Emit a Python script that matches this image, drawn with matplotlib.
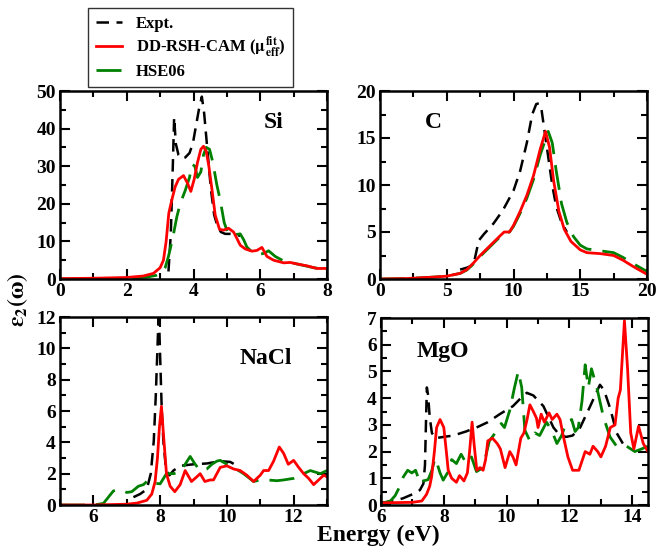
import matplotlib
matplotlib.use("Agg")
import matplotlib.pyplot as plt
from matplotlib.ticker import MultipleLocator

plt.rcParams['font.family'] = ['Liberation Serif', 'DejaVu Serif']
plt.rcParams['font.weight'] = 'bold'
plt.rcParams['mathtext.fontset'] = 'stix'

# ---- Si ----
si_expt_x = [3.25, 3.32, 3.38, 3.42, 3.47, 3.55, 3.65, 3.75, 3.88, 3.98, 4.08, 4.16, 4.25, 4.32, 4.42, 4.52, 4.62, 4.72, 4.82, 4.95, 5.1, 5.4]
si_expt_y = [2.0, 12.0, 30.0, 43.0, 36.0, 33.0, 32.0, 32.3, 33.5, 36.0, 41.0, 45.0, 48.5, 44.0, 34.0, 24.0, 17.0, 14.0, 12.5, 12.0, 12.0, 11.5]
si_dd_x = [0, 1.0, 2.0, 2.5, 2.8, 3.0, 3.1, 3.18, 3.26, 3.35, 3.45, 3.55, 3.7, 3.82, 3.92, 4.02, 4.12, 4.22, 4.3, 4.38, 4.46, 4.55, 4.65, 4.78, 4.9, 5.05, 5.2, 5.3, 5.4, 5.55, 5.75, 5.9, 6.05, 6.2, 6.4, 6.7, 6.9, 7.1, 7.4, 7.7, 8.0]
si_dd_y = [0.1, 0.2, 0.4, 0.8, 1.5, 3.0, 5.0, 10.0, 17.5, 21.0, 24.5, 26.5, 27.5, 25.5, 23.3, 26.5, 31.0, 34.5, 35.3, 34.0, 30.0, 24.0, 17.0, 13.2, 13.0, 13.5, 12.5, 10.8, 9.0, 8.0, 7.4, 7.6, 8.4, 6.0, 5.0, 4.3, 4.4, 4.0, 3.5, 2.8, 2.8]
si_hse_x = [0, 1.0, 2.0, 2.6, 2.9, 3.05, 3.15, 3.25, 3.38, 3.5, 3.6, 3.75, 3.88, 3.96, 4.04, 4.12, 4.22, 4.3, 4.38, 4.48, 4.58, 4.7, 4.8, 4.92, 5.02, 5.12, 5.25, 5.4, 5.5, 5.6, 5.75, 5.95, 6.1, 6.25, 6.45, 6.7, 7.0, 7.3, 7.6, 8.0]
si_hse_y = [0.05, 0.1, 0.2, 0.5, 1.0, 1.5, 3.0, 6.0, 11.0, 16.5, 20.0, 23.5, 27.0, 30.5, 30.0, 27.0, 28.5, 33.0, 35.0, 34.5, 31.0, 25.0, 21.0, 15.0, 12.5, 11.5, 11.8, 12.0, 10.5, 8.5, 7.2, 6.5, 6.8, 7.5, 6.0, 4.8, 4.2, 3.6, 3.0, 2.5]

# ---- C ----
c_expt_x = [6.0, 6.5, 7.0, 7.2, 7.4, 7.8, 8.5, 9.2, 10.0, 10.5, 11.0, 11.4, 11.7, 11.9, 12.1, 12.3, 12.6, 12.9, 13.2, 13.6, 14.0]
c_expt_y = [1.0, 1.2, 1.5, 2.8, 4.1, 4.8, 5.9, 7.3, 9.4, 11.5, 14.5, 17.5, 18.6, 18.7, 18.0, 16.0, 13.0, 10.0, 7.7, 6.0, 5.0]
c_dd_x = [0, 2, 4, 5, 6, 6.5, 7.0, 7.5, 8.0, 8.5, 9.0, 9.3, 9.7, 10.0, 10.5, 11.0, 11.5, 12.0, 12.4, 12.7, 13.0, 13.4, 13.8, 14.3, 15.0, 15.5, 16.5, 17.5, 18.2, 19.0, 20.0]
c_dd_y = [0.0, 0.05, 0.2, 0.3, 0.6, 1.0, 1.7, 2.5, 3.2, 3.9, 4.6, 5.0, 5.0, 5.7, 7.2, 8.9, 11.0, 13.8, 15.7, 14.0, 10.5, 7.2, 5.3, 4.0, 3.1, 2.8, 2.7, 2.5, 2.0, 1.3, 0.5]
c_hse_x = [0, 2, 4, 5, 6, 6.5, 7.0, 7.5, 8.0, 8.5, 9.0, 9.3, 9.7, 10.0, 10.5, 11.0, 11.5, 12.0, 12.6, 12.9, 13.2, 13.6, 14.0, 14.5, 15.0, 15.5, 16.5, 17.5, 18.2, 19.0, 20.0]
c_hse_y = [0.0, 0.05, 0.2, 0.3, 0.6, 0.95, 1.6, 2.4, 3.1, 3.8, 4.5, 4.9, 5.0, 5.6, 7.0, 8.6, 10.6, 13.2, 15.7, 14.5, 11.5, 8.0, 6.0, 4.5, 3.6, 3.2, 3.0, 2.8, 2.3, 1.6, 0.8]

# ---- NaCl ----
nacl_expt_x = [7.2, 7.4, 7.6, 7.72, 7.81, 7.87, 7.92, 7.96, 8.0, 8.05, 8.1, 8.18, 8.28, 8.4, 8.6, 9.0, 9.4, 9.8, 10.1, 10.4]
nacl_expt_y = [0.5, 0.7, 1.0, 2.0, 4.1, 7.0, 10.0, 12.5, 9.5, 6.0, 4.0, 2.2, 1.9, 2.2, 2.5, 2.6, 2.65, 2.8, 2.75, 2.4]
nacl_dd_x = [5.0, 6.0, 7.0, 7.3, 7.6, 7.75, 7.85, 7.92, 7.98, 8.04, 8.1, 8.19, 8.3, 8.44, 8.6, 8.75, 8.94, 9.1, 9.2, 9.34, 9.5, 9.6, 9.8, 10.0, 10.2, 10.4, 10.6, 10.8, 11.0, 11.1, 11.25, 11.4, 11.57, 11.7, 11.84, 12.0, 12.15, 12.3, 12.45, 12.6, 12.75, 12.9, 13.0]
nacl_dd_y = [0.0, 0.0, 0.05, 0.12, 0.3, 0.7, 1.5, 3.0, 5.0, 6.3, 4.5, 2.0, 1.2, 0.85, 1.3, 2.2, 1.5, 1.8, 2.0, 1.5, 1.6, 1.6, 2.4, 2.5, 2.3, 2.2, 1.9, 1.5, 1.9, 2.2, 2.2, 2.8, 3.7, 3.3, 2.6, 2.85, 2.4, 2.0, 1.7, 1.3, 1.6, 1.9, 1.8]
nacl_hse_x = [5.0, 6.0, 6.3, 6.45, 6.6, 6.8, 7.0, 7.15, 7.35, 7.5, 7.65, 7.8, 8.0, 8.19, 8.4, 8.6, 8.75, 8.9, 9.05, 9.2, 9.4, 9.55, 9.7, 9.8, 10.0, 10.2, 10.5, 10.8, 11.0, 11.2, 11.5, 11.7, 12.0, 12.2, 12.5, 12.8, 13.0]
nacl_hse_y = [0.0, 0.0, 0.1, 0.5, 0.9, 1.0, 0.8, 0.85, 1.2, 1.3, 1.6, 1.4, 1.35, 2.0, 2.0, 2.1, 2.6, 3.1, 2.6, 2.2, 2.3, 2.6, 2.8, 2.85, 2.6, 2.4, 2.0, 1.5, 1.6, 1.6, 1.55, 1.6, 1.7, 1.9, 2.2, 2.0, 2.2]

# ---- MgO ----
mgo_expt_x = [6.0, 6.4, 6.7, 7.0, 7.24, 7.35, 7.4, 7.43, 7.46, 7.5, 7.55, 7.62, 7.72, 8.0, 8.3, 8.7, 9.04, 9.4, 9.78, 10.2, 10.45, 10.64, 10.85, 11.17, 11.49, 11.7, 11.9, 12.1, 12.34, 12.66, 12.97, 13.1, 13.3, 13.5, 13.7]
mgo_expt_y = [0.08, 0.15, 0.25, 0.4, 0.56, 0.8, 1.5, 3.0, 4.4, 4.1, 3.3, 2.7, 2.5, 2.55, 2.6, 2.75, 2.9, 3.1, 3.4, 3.7, 4.0, 4.2, 4.1, 3.7, 2.9, 2.6, 2.55, 2.6, 2.9, 3.7, 4.5, 4.3, 3.6, 2.7, 2.3]
mgo_dd_x = [6.0, 7.0, 7.3, 7.45, 7.55, 7.61, 7.7, 7.77, 7.88, 8.0, 8.08, 8.14, 8.25, 8.4, 8.5, 8.64, 8.75, 8.82, 8.9, 8.97, 9.05, 9.15, 9.25, 9.33, 9.4, 9.55, 9.7, 9.8, 9.95, 10.1, 10.2, 10.3, 10.45, 10.55, 10.65, 10.74, 10.85, 10.95, 11.0, 11.1, 11.2, 11.35, 11.45, 11.6, 11.7, 11.8, 11.95, 12.1, 12.3, 12.5, 12.65, 12.75, 12.9, 13.0, 13.15, 13.3, 13.45, 13.55, 13.62, 13.68, 13.75, 13.8, 13.85, 13.95, 14.05, 14.2, 14.35, 14.5]
mgo_dd_y = [0.08, 0.1, 0.15, 0.4, 0.7, 1.05, 2.0, 2.9, 3.2, 2.9, 2.0, 1.3, 1.0, 0.85, 1.1, 0.9, 1.2, 2.0, 3.1, 2.2, 1.3, 1.4, 1.3, 1.7, 2.4, 2.5, 2.3, 2.1, 1.4, 2.0, 1.8, 1.5, 2.5, 2.7, 3.2, 3.75, 3.5, 3.25, 2.9, 3.4, 3.1, 3.45, 3.2, 3.4, 3.2, 2.6, 1.8, 1.3, 1.3, 2.0, 1.9, 2.2, 2.0, 1.8, 2.2, 2.9, 3.0, 4.0, 4.3, 5.5, 6.9, 6.0, 5.1, 2.7, 2.1, 2.95, 2.3, 2.0]
mgo_hse_x = [6.0, 6.3, 6.45, 6.6, 6.71, 6.85, 6.98, 7.1, 7.25, 7.35, 7.5, 7.62, 7.72, 7.8, 7.88, 7.98, 8.14, 8.25, 8.4, 8.55, 8.72, 8.88, 9.04, 9.25, 9.45, 9.67, 9.83, 9.93, 10.1, 10.25, 10.37, 10.48, 10.58, 10.74, 10.9, 11.05, 11.27, 11.43, 11.6, 11.75, 11.9, 12.07, 12.18, 12.28, 12.4, 12.5, 12.6, 12.7, 12.87, 13.08, 13.29, 13.5, 13.82, 14.08, 14.3, 14.5]
mgo_hse_y = [0.05, 0.15, 0.35, 0.7, 1.05, 1.3, 1.2, 1.3, 0.8, 0.9, 0.95, 1.3, 1.75, 1.5, 1.2, 0.93, 1.25, 1.7, 1.55, 1.9, 1.55, 1.8, 1.25, 1.4, 2.4, 2.75, 3.05, 2.9, 3.55, 4.4, 5.0, 4.4, 2.8, 2.4, 2.7, 2.6, 3.1, 2.8, 2.3, 2.6, 3.1, 3.2, 2.75, 2.9, 3.9, 5.25, 4.4, 5.1, 4.4, 3.3, 2.55, 2.2, 2.2, 2.0, 2.1, 2.2]

W, H = 658, 546
fig = plt.figure(figsize=(W / 100, H / 100), dpi=100)


def make_axes(px_left, px_top, px_right, px_bottom):
    return fig.add_axes([px_left / W, 1 - px_bottom / H, (px_right - px_left) / W, (px_bottom - px_top) / H])


panels = [
    (make_axes(60, 91, 327, 279), si_expt_x, si_expt_y, si_dd_x, si_dd_y, si_hse_x, si_hse_y,
     (0, 8), (0, 50), 2, 1, 10, 5, 'Si', (0.8, 0.83)),
    (make_axes(380, 91, 647, 279), c_expt_x, c_expt_y, c_dd_x, c_dd_y, c_hse_x, c_hse_y,
     (0, 20), (0, 20), 5, 2.5, 5, 2.5, 'C', (0.2, 0.83)),
    (make_axes(60, 317, 327, 505), nacl_expt_x, nacl_expt_y, nacl_dd_x, nacl_dd_y, nacl_hse_x, nacl_hse_y,
     (5, 13), (0, 12), 2, 1, 2, 1, 'NaCl', (0.77, 0.78)),
    (make_axes(381, 318, 648, 505), mgo_expt_x, mgo_expt_y, mgo_dd_x, mgo_dd_y, mgo_hse_x, mgo_hse_y,
     (6, 14.5), (0, 7), 2, 1, 1, 0.5, 'MgO', (0.23, 0.82)),
]

for (ax, ex, ey, dx, dy, hx, hy, xlim, ylim, xmaj, xmin, ymaj, ymin, name, pos) in panels:
    ax.plot(ex, ey, color='black', lw=1.8, dashes=(5, 3), label='Expt.')
    ax.plot(hx, hy, color='green', lw=2.0, dashes=(9, 4), label='HSE06')
    ax.plot(dx, dy, color='red', lw=2.0, label=r'DD-RSH-CAM ($\mathbf{\mu_{eff}^{fit}}$)')
    ax.set_xlim(*xlim)
    ax.set_ylim(*ylim)
    ax.xaxis.set_major_locator(MultipleLocator(xmaj))
    ax.xaxis.set_minor_locator(MultipleLocator(xmin))
    ax.yaxis.set_major_locator(MultipleLocator(ymaj))
    ax.yaxis.set_minor_locator(MultipleLocator(ymin))
    ax.tick_params(which='both', direction='in', top=True, right=True, width=1.5)
    ax.tick_params(which='major', length=7, labelsize=14, pad=3)
    ax.tick_params(which='minor', length=4)
    for s in ax.spines.values():
        s.set_linewidth(1.8)
    for lab in ax.get_xticklabels() + ax.get_yticklabels():
        lab.set_fontweight('bold')
    ax.text(pos[0], pos[1], name, transform=ax.transAxes, fontsize=17, fontweight='bold',
            ha='center', va='center')

ax0 = panels[0][0]
h, l = ax0.get_legend_handles_labels()
order = [0, 2, 1]
leg = fig.legend([h[i] for i in order], [l[i] for i in order],
                 loc='upper left', bbox_to_anchor=(88 / W, 1 - 8 / H),
                 frameon=True, fancybox=False, edgecolor='black',
                 prop={'size': 12, 'weight': 'bold'}, handlelength=1.6,
                 handletextpad=0.8, borderpad=0.45, labelspacing=0.2,
                 borderaxespad=0)
leg.get_frame().set_linewidth(1.0)

fig.text(18 / W, 1 - 300 / H, r'$\mathbf{\varepsilon_2(\omega)}$', rotation=90,
         fontsize=17, ha='center', va='center')
fig.text(378 / W, 0, 'Energy (eV)', fontsize=17, fontweight='bold',
         ha='center', va='bottom')

fig.savefig('out.png', dpi=100)
